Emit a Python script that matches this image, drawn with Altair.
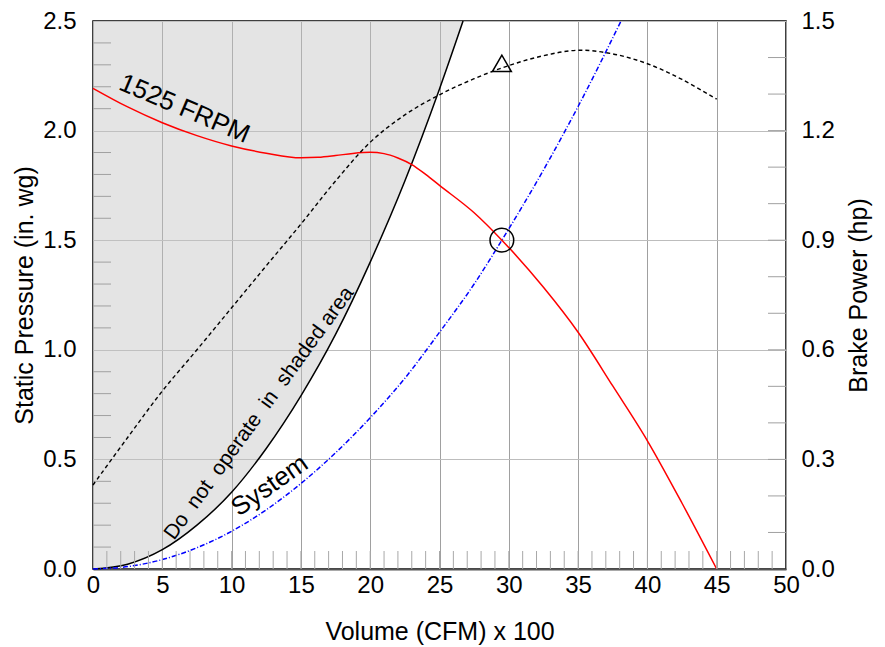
import altair as alt
import pandas as pd

# ---------------- data ----------------
# Fan curve, 1525 FRPM (static pressure, in. wg)
fan_x = [0, 2.5, 5, 7.5, 10, 12.5, 15, 16.25, 17.5, 18.75, 20, 21, 22, 23, 24, 25, 27.5, 29.5,
         32.5, 35, 37.5, 40, 42.5, 45]
fan_sp = [2.193, 2.108, 2.036, 1.977, 1.93, 1.897, 1.876, 1.878, 1.886, 1.896, 1.901, 1.895, 1.875,
          1.845, 1.80, 1.75, 1.625, 1.50, 1.285, 1.08, 0.835, 0.585, 0.30, 0.0]

# System curve (blue dash-dot)
sys_x = [0, 2.5, 5, 7.5, 10, 12.5, 15, 17.5, 20, 22.5, 25, 27.5, 29.5, 32.5, 35, 38.1]
sys_sp = [0, 0.011, 0.043, 0.097, 0.172, 0.27, 0.39, 0.53, 0.69, 0.87, 1.08, 1.30, 1.50, 1.82, 2.11, 2.50]

# Stall limit curve (black solid) bounding the shaded area
lim_x = [0, 2.5, 5, 7.5, 10, 12.5, 15, 17.5, 20, 22.5, 25, 26.7]
lim_sp = [0, 0.022, 0.088, 0.20, 0.35, 0.55, 0.79, 1.07, 1.40, 1.77, 2.19, 2.5]

# Brake power curve (black dashed, right axis, hp)
bhp_x = [0, 2.5, 5, 7.5, 10, 12.5, 15, 17.5, 20, 22.5, 25, 27.5, 30, 32.5, 35, 37.5, 40, 42.5, 45]
bhp_hp = [0.23, 0.36, 0.487, 0.60, 0.715, 0.83, 0.944, 1.062, 1.168, 1.243, 1.298, 1.342, 1.378, 1.405, 1.42, 1.41, 1.383, 1.34, 1.286]

# Operating points
op_x = [29.5]
op_sp = [1.50]
op_bhp = [1.384]

# Annotations
ann_text = ["1525 FRPM", "Do\u00a0\u00a0not\u00a0\u00a0operate\u00a0\u00a0in\u00a0\u00a0shaded area", "System"]
ann_x = [6.6, 12.0, 12.75]
ann_y = [2.10, 0.71, 0.38]
ann_angle = [23, 306, 325]
ann_size = [26, 21, 26]

# Axis ticks
x_ticks = [0, 5, 10, 15, 20, 25, 30, 35, 40, 45, 50]
sp_ticks = [0.0, 0.5, 1.0, 1.5, 2.0, 2.5]
hp_ticks = [0.0, 0.3, 0.6, 0.9, 1.2, 1.5]
x_minor = [v for v in range(1, 50)]
sp_minor = [0.1, 0.2, 0.3, 0.4, 0.6, 0.7, 0.8, 0.9, 1.1, 1.2, 1.3, 1.4, 1.6, 1.7, 1.8, 1.9,
            2.1, 2.2, 2.3, 2.4]
hp_minor = [0.1, 0.2, 0.3, 0.4, 0.5, 0.6, 0.7, 0.8, 0.9, 1.0, 1.1, 1.2, 1.3, 1.4]

# ---------------- chart ----------------
W, H = 693, 548
FONT = "Liberation Sans"
TICK_LEN = 18
LBL = 24
TTL = 25

xscale = alt.Scale(domain=[0, 50], nice=False, zero=False)
yscale = alt.Scale(domain=[0, 2.5], nice=False, zero=False)
hscale = alt.Scale(domain=[0, 1.5], nice=False, zero=False)

xaxis = alt.Axis(values=x_ticks, title="Volume (CFM) x 100", grid=True, gridColor="#a0a0a0",
                 gridWidth=1, ticks=False, labelPadding=4, labelFontSize=LBL, titleFontSize=TTL,
                 titleFontWeight="normal", titlePadding=22, labelFont=FONT, titleFont=FONT,
                 labelColor="black", titleColor="black", domainColor="#555555", domainWidth=2,
                 format="d", labelFlush=False)
yaxis = alt.Axis(values=sp_ticks, title="Static Pressure (in. wg)", grid=True, gridColor="#bdbdbd",
                 gridWidth=1.2, ticks=False, domain=False, labelPadding=17, labelFontSize=LBL,
                 titleFontSize=TTL, titleFontWeight="normal", titlePadding=5, labelFont=FONT,
                 titleFont=FONT, labelColor="black", titleColor="black", format=".1f",
                 labelFlush=False)
haxis = alt.Axis(values=hp_ticks, title="Brake Power (hp)", orient="right", grid=False, ticks=False,
                 domain=False, labelPadding=15, labelFontSize=LBL, titleFontSize=TTL,
                 titleFontWeight="normal", titlePadding=12, titleAngle=270, titleBaseline="top",
                 labelFont=FONT, titleFont=FONT, labelColor="black", titleColor="black",
                 format=".1f", labelFlush=False)

fan_df = pd.DataFrame({"x": fan_x, "y": fan_sp})
sys_df = pd.DataFrame({"x": sys_x, "y": sys_sp})
lim_df = pd.DataFrame({"x": lim_x, "y": lim_sp, "top": [2.5] * len(lim_x)})
bhp_df = pd.DataFrame({"x": bhp_x, "y": bhp_hp})
op_df = pd.DataFrame({"x": op_x, "y": op_sp})
opb_df = pd.DataFrame({"x": op_x, "y": op_bhp})
ann_df = pd.DataFrame({"t": ann_text, "x": ann_x, "y": ann_y})

X = alt.X("x:Q", scale=xscale, axis=xaxis)
Y = alt.Y("y:Q", scale=yscale, axis=yaxis)
YH = alt.Y("y:Q", scale=hscale, axis=haxis)

shade = alt.Chart(lim_df).mark_area(color="#c4c4c4", opacity=0.45, interpolate="monotone").encode(
    x=X, y=Y, y2="top:Q")
limit_line = alt.Chart(lim_df).mark_line(color="black", strokeWidth=1.5, interpolate="monotone").encode(
    x=X, y=Y)
fan_line = alt.Chart(fan_df).mark_line(color="#ff0000", strokeWidth=1.5, interpolate="monotone").encode(
    x=X, y=Y)
sys_line = alt.Chart(sys_df).mark_line(color="#0000ff", strokeWidth=1.5, strokeDash=[5, 2, 1, 2],
                                       interpolate="monotone").encode(x=X, y=Y)
circle = alt.Chart(op_df).mark_point(shape="circle", size=560, filled=False, color="black",
                                     strokeWidth=1.5, opacity=1).encode(x=X, y=Y)

texts = []
for i in range(len(ann_text)):
    texts.append(
        alt.Chart(ann_df.iloc[[i]]).mark_text(angle=ann_angle[i], fontSize=ann_size[i], font=FONT,
                                              color="black", align="center", baseline="middle")
        .encode(x=X, y=Y, text="t:N"))

left_ticks = alt.Chart(pd.DataFrame({"y": sp_minor})).mark_rule(color="#a0a0a0", strokeWidth=1).encode(
    y=Y, x=alt.value(0), x2=alt.value(TICK_LEN))
bottom_ticks = alt.Chart(pd.DataFrame({"x": x_minor})).mark_rule(color="#a8a8a8", strokeWidth=1).encode(
    x=X, y=alt.value(H - TICK_LEN), y2=alt.value(H))

left_layer = alt.layer(shade, limit_line, sys_line, fan_line, circle, *texts, left_ticks, bottom_ticks)

bhp_line = alt.Chart(bhp_df).mark_line(color="black", strokeWidth=1.4, strokeDash=[4, 3],
                                       interpolate="catmull-rom").encode(x=X, y=YH)
triangle = alt.Chart(opb_df).mark_point(shape="triangle-up", size=360, filled=False, color="black",
                                        strokeWidth=1.5, opacity=1).encode(x=X, y=YH)
right_ticks = alt.Chart(pd.DataFrame({"y": hp_minor})).mark_rule(color="#a0a0a0", strokeWidth=1).encode(
    y=YH, x=alt.value(W - TICK_LEN), x2=alt.value(W))

right_layer = alt.layer(bhp_line, triangle, right_ticks)

chart = (
    alt.layer(left_layer, right_layer)
    .resolve_scale(y="independent")
    .properties(width=W, height=H, padding={"left": 4, "top": 1, "right": 5, "bottom": 5},
                background="white")
    .configure_view(stroke="black", strokeWidth=1.5)
)

chart.save("out.html", embed_options={"renderer": "svg", "actions": False})
